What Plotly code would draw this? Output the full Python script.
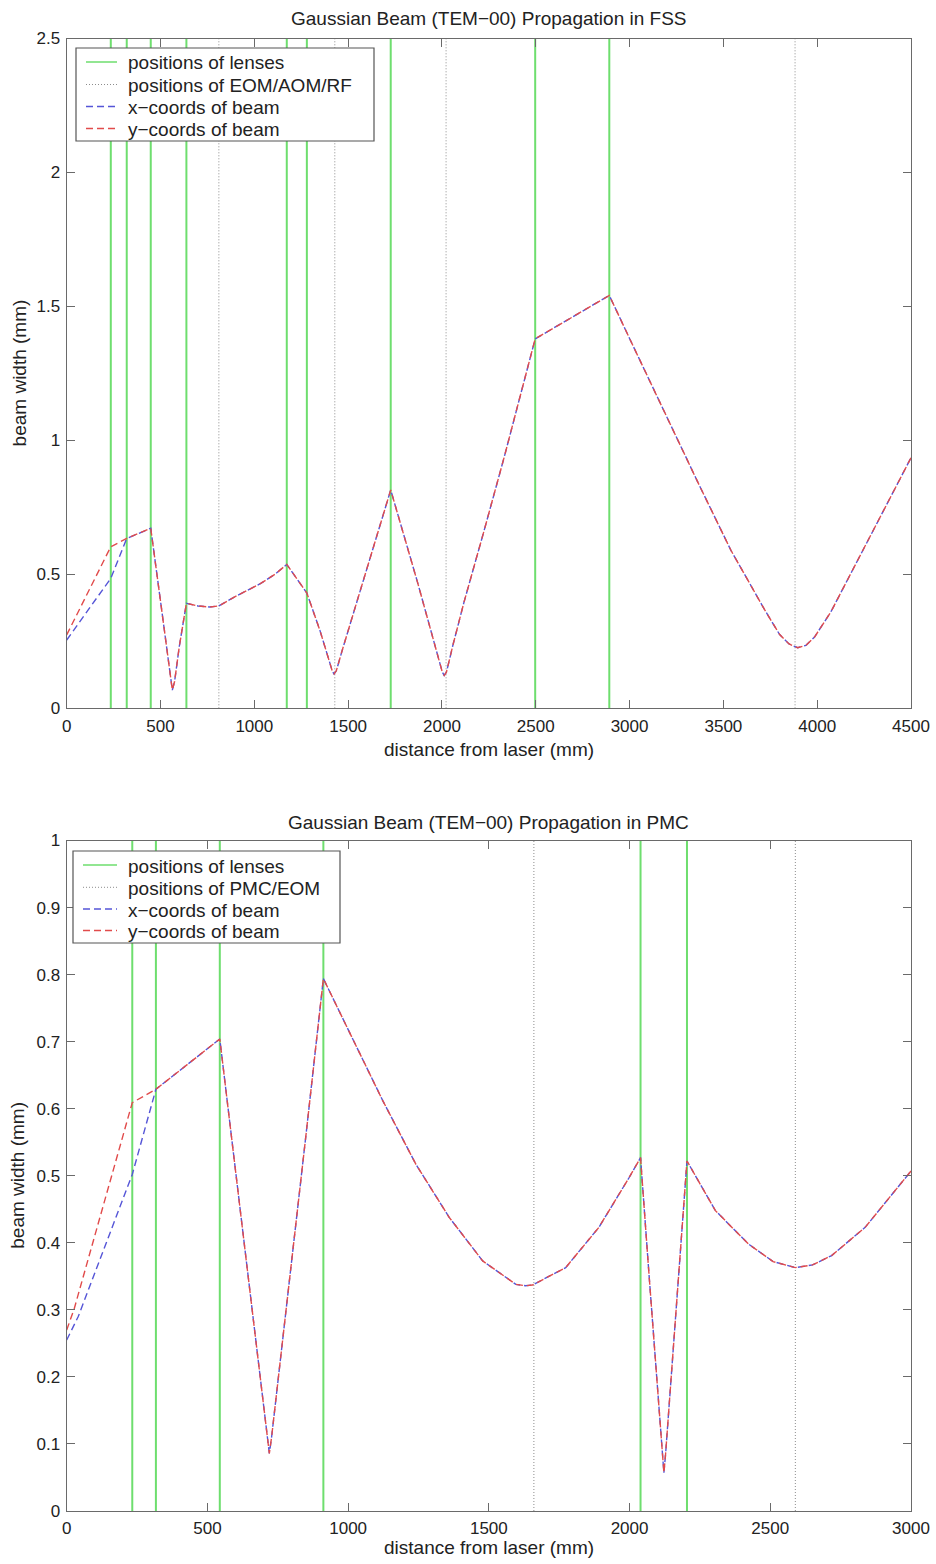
import plotly.graph_objects as go

# ---------------- data ----------------
# FSS plot
fss_lenses = [235, 320, 448, 638, 1173, 1280, 1727, 2497, 2892]
fss_optics = [811, 1429, 2022, 3882]
fss_z = [0, 235, 320, 448, 500, 540, 553, 563, 575, 600, 638, 700, 760, 811, 893, 960,
         1034, 1110, 1173, 1280, 1350, 1400, 1415, 1425, 1437, 1470, 1600, 1727, 1870,
         1990, 2002, 2012, 2024, 2060, 2118, 2225, 2332, 2497, 2892, 3007, 3185, 3363,
         3540, 3718, 3800, 3850, 3896, 3940, 3985, 4073, 4162, 4340, 4500]
fss_wx = [0.255, 0.485, 0.634, 0.672, 0.40, 0.19, 0.11, 0.068, 0.10, 0.23, 0.392, 0.382,
          0.378, 0.382, 0.415, 0.44, 0.466, 0.50, 0.537, 0.43, 0.29, 0.175, 0.14, 0.128,
          0.14, 0.22, 0.52, 0.815, 0.47, 0.17, 0.135, 0.123, 0.135, 0.24, 0.397, 0.664,
          0.938, 1.379, 1.541, 1.37, 1.105, 0.845, 0.59, 0.37, 0.275, 0.24, 0.226, 0.235,
          0.265, 0.36, 0.48, 0.72, 0.935]
fss_wy = [0.274, 0.603, 0.634, 0.672, 0.40, 0.19, 0.11, 0.068, 0.10, 0.23, 0.392, 0.382,
          0.378, 0.382, 0.415, 0.44, 0.466, 0.50, 0.537, 0.43, 0.29, 0.175, 0.14, 0.128,
          0.14, 0.22, 0.52, 0.815, 0.47, 0.17, 0.135, 0.123, 0.135, 0.24, 0.397, 0.664,
          0.938, 1.379, 1.541, 1.37, 1.105, 0.845, 0.59, 0.37, 0.275, 0.24, 0.226, 0.235,
          0.265, 0.36, 0.48, 0.72, 0.935]

# PMC plot
pmc_lenses = [233, 317, 544, 912, 2039, 2204]
pmc_optics = [1660, 2589]
pmc_z = [0, 27, 41, 233, 317, 544, 600, 660, 700, 712, 720, 728, 750, 850, 912, 1005,
         1123, 1241, 1359, 1478, 1596, 1630, 1655, 1773, 1891, 1998, 2039, 2068, 2104,
         2116, 2122, 2128, 2151, 2187, 2204, 2305, 2423, 2510, 2589, 2650, 2718, 2837, 3000]
pmc_wx = [0.255, 0.278, 0.29, 0.502, 0.629, 0.704, 0.507, 0.297, 0.157, 0.11, 0.086, 0.11,
          0.19, 0.56, 0.794, 0.714, 0.612, 0.517, 0.438, 0.373, 0.338, 0.336, 0.337, 0.363,
          0.423, 0.497, 0.527, 0.359, 0.158, 0.085, 0.057, 0.085, 0.221, 0.426, 0.522,
          0.448, 0.398, 0.372, 0.363, 0.367, 0.381, 0.423, 0.507]
pmc_wy = [0.27, 0.302, 0.323, 0.609, 0.629, 0.704, 0.507, 0.297, 0.157, 0.11, 0.086, 0.11,
          0.19, 0.56, 0.794, 0.714, 0.612, 0.517, 0.438, 0.373, 0.338, 0.336, 0.337, 0.363,
          0.423, 0.497, 0.527, 0.359, 0.158, 0.085, 0.057, 0.085, 0.221, 0.426, 0.522,
          0.448, 0.398, 0.372, 0.363, 0.367, 0.381, 0.423, 0.507]

fss_title = "Gaussian Beam (TEM\u221200) Propagation in FSS"
pmc_title = "Gaussian Beam (TEM\u221200) Propagation in PMC"
x_label = "distance from laser (mm)"
y_label = "beam width (mm)"
fss_legend = ["positions of lenses", "positions of EOM/AOM/RF",
              "x\u2212coords of beam", "y\u2212coords of beam"]
pmc_legend = ["positions of lenses", "positions of PMC/EOM",
              "x\u2212coords of beam", "y\u2212coords of beam"]
fss_yrange = [0, 2.5]
pmc_yrange = [0, 1]

# ---------------- styling ----------------
W, H = 936, 1560
FONT = "Liberation Sans, Arial, Helvetica, sans-serif"
GREEN = "rgb(110,222,110)"
GREY_DOT = "rgb(140,140,140)"
BLUE = "rgb(85,85,215)"
RED = "rgb(225,75,75)"
AX = "#6a6a6a"
DASH = "7px,4px"


def pxx(v):
    return v / W


def pxy(v):
    return 1 - v / H


def vlines(positions, yr):
    xs, ys = [], []
    for p in positions:
        xs += [p, p, None]
        ys += [yr[0], yr[1], None]
    return xs, ys


fig = go.Figure()


def add_panel(lenses, optics, z, wx, wy, yr, xa, ya):
    lx, ly = vlines(lenses, yr)
    ox, oy = vlines(optics, yr)
    fig.add_trace(go.Scatter(x=ox, y=oy, mode="lines", xaxis=xa, yaxis=ya,
                             line=dict(color=GREY_DOT, width=1, dash="1px,2px"),
                             showlegend=False, hoverinfo="skip"))
    fig.add_trace(go.Scatter(x=lx, y=ly, mode="lines", xaxis=xa, yaxis=ya,
                             line=dict(color=GREEN, width=2),
                             showlegend=False, hoverinfo="skip"))
    fig.add_trace(go.Scatter(x=z, y=wx, mode="lines", xaxis=xa, yaxis=ya,
                             line=dict(color=BLUE, width=1.4, dash=DASH),
                             showlegend=False))
    fig.add_trace(go.Scatter(x=z, y=wy, mode="lines", xaxis=xa, yaxis=ya,
                             line=dict(color=RED, width=1.4, dash=DASH),
                             showlegend=False))


add_panel(fss_lenses, fss_optics, fss_z, fss_wx, fss_wy, fss_yrange, "x", "y")
add_panel(pmc_lenses, pmc_optics, pmc_z, pmc_wx, pmc_wy, pmc_yrange, "x2", "y2")

XL, XR = 66.7, 911.0
TOP_T, TOP_B = 38.5, 708.3
BOT_T, BOT_B = 840.5, 1511.0

common = dict(showline=True, linecolor=AX, linewidth=1.2, mirror="ticks", ticks="inside",
              ticklen=8, tickcolor=AX, tickwidth=1.2, showgrid=False, zeroline=False,
              automargin=False, ticklabeloverflow="allow",
              tickfont=dict(family=FONT, size=17, color="#222"))

fig.update_layout(
    width=W, height=H,
    margin=dict(l=0, r=0, t=0, b=0, autoexpand=False),
    paper_bgcolor="white", plot_bgcolor="white",
    showlegend=False,
    xaxis=dict(domain=[pxx(XL), pxx(XR)], range=[0, 4500], dtick=500, tick0=0,
               anchor="y", ticklabelstandoff=2, **common),
    yaxis=dict(domain=[pxy(TOP_B), pxy(TOP_T)], range=fss_yrange, dtick=0.5, tick0=0,
               anchor="x", ticklabelstandoff=2, **common),
    xaxis2=dict(domain=[pxx(XL), pxx(XR)], range=[0, 3000], dtick=500, tick0=0,
                anchor="y2", ticklabelstandoff=1, **common),
    yaxis2=dict(domain=[pxy(BOT_B), pxy(BOT_T)], range=pmc_yrange, dtick=0.1, tick0=0,
                anchor="x2", ticklabelstandoff=2, **common),
)

annos = []
shapes = []
TXT = dict(family=FONT, size=19, color="#222")


def text(x, y, s, xa="center", rot=0, ya="middle"):
    annos.append(dict(x=pxx(x), y=pxy(y), xref="paper", yref="paper", text=s,
                      showarrow=False, xanchor=xa, yanchor=ya, textangle=rot,
                      font=TXT))


mid = (XL + XR) / 2
text(mid, 19, fss_title)
text(mid, 749, x_label)
text(19, (TOP_T + TOP_B) / 2, y_label, rot=-90)
text(mid, 822, pmc_title)
text(mid, H, x_label, ya="bottom")
text(18, (BOT_T + BOT_B) / 2, y_label, rot=-90)


def legend(box, rows, labels, sample_x, text_x):
    x0, y0, x1, y1 = box
    shapes.append(dict(type="rect", xref="paper", yref="paper", x0=pxx(x0), x1=pxx(x1),
                       y0=pxy(y0), y1=pxy(y1), line=dict(color="#555", width=1.2),
                       fillcolor="white", layer="above"))
    styles = [dict(color=GREEN, width=1.5), dict(color=GREY_DOT, width=1, dash="1px,2px"),
              dict(color=BLUE, width=1.4, dash=DASH), dict(color=RED, width=1.4, dash=DASH)]
    for ry, lab, st in zip(rows, labels, styles):
        shapes.append(dict(type="line", xref="paper", yref="paper", x0=pxx(sample_x[0]),
                           x1=pxx(sample_x[1]), y0=pxy(ry), y1=pxy(ry), line=st,
                           layer="above"))
        annos.append(dict(x=pxx(text_x), y=pxy(ry + 1), xref="paper", yref="paper",
                          text=lab, showarrow=False, xanchor="left", yanchor="middle",
                          font=TXT))


legend((76, 48, 374, 141), [62, 84.5, 106.5, 128.5], fss_legend, (86, 117), 126)
legend((73, 851, 340, 943), [865, 887.3, 909, 930.5], pmc_legend, (83, 117), 126)

fig.update_layout(annotations=annos, shapes=shapes)
fig.write_html("out.html")
